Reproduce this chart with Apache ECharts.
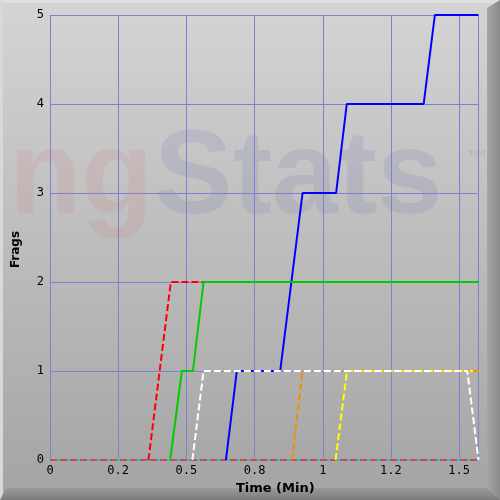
<!DOCTYPE html>
<html>
<head>
<meta charset="utf-8">
<script src="https://cdn.jsdelivr.net/npm/echarts@6/dist/echarts.min.js"></script>
<style>
html,body{margin:0;padding:0;background:#b8b8b8;}
#chart{width:500px;height:500px;}
</style>
</head>
<body>
<div id="chart"></div>
<script>
// time in minutes, frags
var xTickLabels = ["0", "0.2", "0.5", "0.8", "1", "1.2", "1.5"];
var yTickLabels = ["0", "1", "2", "3", "4", "5"];
var endTime = 1.571;

var cyanTimes   = [0, 1.571];
var cyanFrags   = [0, 0];
var pinkTimes   = [0, 1.571];
var pinkFrags   = [0, 0];
var yellowTimes = [1.047, 1.089, 1.571];
var yellowFrags = [0, 1, 1];
var orangeTimes = [0.887, 0.926, 1.571];
var orangeFrags = [0, 1, 1];
var blueTimes   = [0.645, 0.685, 0.844, 0.926, 1.049, 1.088, 1.370, 1.411, 1.571];
var blueFrags   = [0, 1, 1, 3, 3, 4, 4, 5, 5];
var whiteTimes  = [0.522, 0.563, 1.530, 1.571];
var whiteFrags  = [0, 1, 1, 0];
var redTimes    = [0.361, 0.443, 1.571];
var redFrags    = [0, 2, 2];
var greenTimes  = [0.4405, 0.4835, 0.524, 0.563, 1.571];
var greenFrags  = [0, 1, 1, 2, 2];

function pairs(xs, ys){
	var out = [];
	for(var i=0;i<xs.length;i++){
		out.push([xs[i], ys[i]]);
	}
	return out;
}

function line(name, xs, ys, color, dashed){
	return {
		name:name,
		type:"line",
		data:pairs(xs, ys),
		symbol:"none",
		animation:false,
		silent:true,
		lineStyle:{color:color, width:2, type:dashed ? [7,3] : "solid"}
	};
}

var chart = echarts.init(document.getElementById("chart"));
chart.setOption({
	animation:false,
	backgroundColor:"transparent",
	graphic:[
		{type:"rect", z:-20, shape:{x:0,y:0,width:500,height:500},
			style:{fill:new echarts.graphic.LinearGradient(0,0,0,1,[{offset:0,color:"#d4d4d4"},{offset:1,color:"#a4a4a4"}])}},
		{type:"rect", z:-19, shape:{x:0,y:0,width:500,height:3}, style:{fill:"#dedede"}},
		{type:"rect", z:-19, shape:{x:0,y:0,width:3,height:500}, style:{fill:"#d8d8d8"}},
		{type:"polygon", z:-19, shape:{points:[[487,8],[500,0],[500,500],[487,488]]},
			style:{fill:new echarts.graphic.LinearGradient(0,0,1,0,[{offset:0,color:"#a6a6a6"},{offset:1,color:"#8a8a8a"}])}},
		{type:"polygon", z:-19, shape:{points:[[6,488],[487,488],[500,500],[0,500]]},
			style:{fill:new echarts.graphic.LinearGradient(0,0,0,1,[{offset:0,color:"#9a9a9a"},{offset:1,color:"#7c7c7c"}])}},
		{type:"text", z:-10, x:9, y:180,
			style:{text:"ng", font:"bold 118px 'Liberation Sans'", fill:"rgba(215,110,110,0.14)", verticalAlign:"middle"}},
		{type:"text", z:-10, x:154, y:180,
			style:{text:"Stats", font:"bold 118px 'Liberation Sans'", fill:"rgba(90,90,170,0.13)", verticalAlign:"middle"}},
		{type:"text", z:-10, x:467, y:158,
			style:{text:"\u2122", font:"bold 20px 'Liberation Sans'", fill:"rgba(90,90,170,0.13)", verticalAlign:"middle"}}
	],
	grid:{left:50, top:15, right:21.5, bottom:40, show:false},
	xAxis:{
		type:"value", min:0, max:endTime, interval:0.25,
		name:"Time (Min)", nameLocation:"middle", nameGap:22,
		nameTextStyle:{fontFamily:"DejaVu Sans", fontWeight:"bold", fontSize:13, color:"#000", padding:[0,0,0,22]},
		axisLine:{show:false}, axisTick:{show:false},
		axisLabel:{fontFamily:"DejaVu Sans Mono", fontSize:12, color:"#000", margin:5, showMaxLabel:false,
			formatter:function(v){ return xTickLabels[Math.round(v/0.25)] || ""; }},
		splitLine:{show:true, lineStyle:{color:"#8080d0", width:1}}
	},
	yAxis:{
		type:"value", min:0, max:5, interval:1,
		name:"Frags", nameLocation:"middle", nameGap:28, nameRotate:90,
		nameTextStyle:{fontFamily:"DejaVu Sans", fontWeight:"bold", fontSize:12, color:"#000", padding:[0,0,0,-24]},
		axisLine:{show:false}, axisTick:{show:false},
		axisLabel:{fontFamily:"DejaVu Sans Mono", fontSize:12, color:"#000", margin:6,
			formatter:function(v){ return yTickLabels[v]; }},
		splitLine:{show:true, lineStyle:{color:"#8080d0", width:1}}
	},
	series:[
		line("cyan", cyanTimes, cyanFrags, "#20c8c8", false),
		line("pink", pinkTimes, pinkFrags, "#d04858", true),
		line("yellow", yellowTimes, yellowFrags, "#ffff00", true),
		line("orange", orangeTimes, orangeFrags, "#f09000", true),
		line("blue", blueTimes, blueFrags, "#0000ff", false),
		line("white", whiteTimes, whiteFrags, "#ffffff", true),
		line("red", redTimes, redFrags, "#ff0000", true),
		line("green", greenTimes, greenFrags, "#00cc00", false)
	]
});
</script>
</body>
</html>
